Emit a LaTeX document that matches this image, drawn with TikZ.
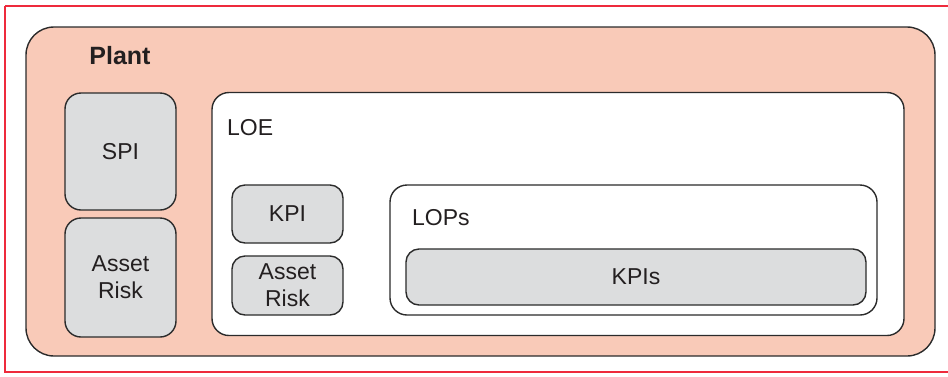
\documentclass[tikz,border=0pt]{standalone}
\usepackage{fontspec}
\setmainfont{Liberation Sans}
\definecolor{framered}{HTML}{EE2A3C}
\definecolor{plantfill}{HTML}{F9CAB8}
\definecolor{boxgray}{HTML}{DCDDDE}
\definecolor{edge}{HTML}{2B2B2B}
\definecolor{ink}{HTML}{231F20}
\tikzset{
  panel/.style={draw=edge, line width=1.4pt, rectangle, inner sep=0pt},
  graybox/.style={panel, fill=boxgray, rounded corners=13pt, text=ink,
    font=\fontsize{23}{27}\selectfont, align=center},
  whitebox/.style={panel, fill=white, rounded corners=17pt},
  caption/.style={inner sep=0pt, anchor=base west, text=ink,
    font=\fontsize{23}{27}\selectfont}
}
\begin{document}
\begin{tikzpicture}[x=1pt, y=-1pt]
  \useasboundingbox (0,0) rectangle (948,376);
  % outer red frame
  \draw[framered, line width=2.2pt] (5,6) -- (960,6) (5,6) -- (5,372) -- (960,372);
  % plant container
  \node[panel, fill=plantfill, rounded corners=28pt, minimum width=909pt, minimum height=329pt]
    (plant) at (480.5,191.5) {};
  \node[inner sep=0pt, anchor=base, text=ink, font=\bfseries\fontsize{25}{30}\selectfont]
    (plantlbl) at (120,64) {Plant};
  % left column
  \node[graybox, rounded corners=16pt, minimum width=111pt, minimum height=117pt]
    (spi) at (120.5,151.5) {SPI};
  \node[graybox, rounded corners=16pt, minimum width=111pt, minimum height=119pt]
    (arisk) at (120.5,277.5) {Asset\\Risk};
  % LOE container
  \node[whitebox, minimum width=692pt, minimum height=243pt] (loe) at (558,214) {};
  \node[caption] (loelbl) at (227,135) {LOE};
  \node[graybox, minimum width=111pt, minimum height=58pt] (kpi) at (287.5,214) {KPI};
  \node[graybox, minimum width=111pt, minimum height=59pt] (arisk2) at (287.5,285.5) {Asset\\Risk};
  % LOPs container
  \node[whitebox, minimum width=487pt, minimum height=130pt] (lops) at (633.5,250) {};
  \node[caption] (lopslbl) at (412,225) {LOPs};
  \node[graybox, minimum width=460pt, minimum height=56pt] (kpis) at (636,277) {KPIs};
\end{tikzpicture}
\end{document}
